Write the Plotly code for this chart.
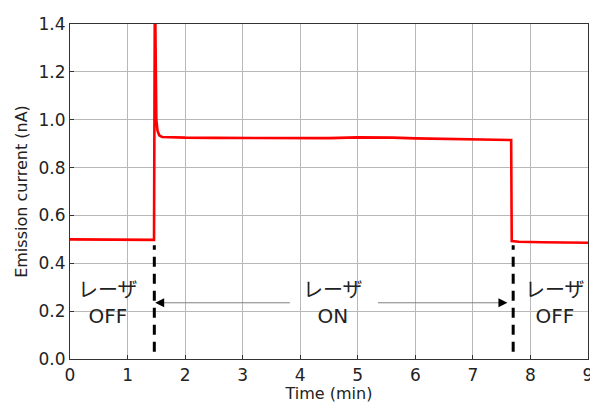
import plotly.graph_objects as go

# Emission current trace (time in min, current in nA)
time_min = [0.0, 0.3, 0.6, 0.9, 1.2, 1.46, 1.475, 1.485, 1.50, 1.52, 1.55, 1.60, 1.8, 2.0,
            2.5, 3.0, 3.5, 4.0, 4.5, 5.0, 5.3, 5.6, 6.0, 6.5, 7.0, 7.3, 7.6, 7.665,
            7.675, 7.8, 8.2, 8.6, 9.0]
current_nA = [0.500, 0.499, 0.500, 0.499, 0.498, 0.498, 1.60, 1.20, 1.00, 0.955, 0.935, 0.928, 0.926, 0.925,
              0.924, 0.923, 0.922, 0.922, 0.923, 0.926, 0.927, 0.925, 0.922, 0.920, 0.918, 0.917, 0.916, 0.915,
              0.493, 0.490, 0.488, 0.487, 0.486]

x_ticks = [0, 1, 2, 3, 4, 5, 6, 7, 8, 9]
y_ticks = [0.0, 0.2, 0.4, 0.6, 0.8, 1.0, 1.2, 1.4]
laser_switch_times = [1.465, 7.70]
label_off = "レーザ<br>OFF"
label_on = "レーザ<br>ON"

fig = go.Figure()
fig.add_trace(go.Scatter(x=time_min, y=current_nA, mode="lines",
                         line=dict(color="#ff0000", width=2.6), showlegend=False))

# dashed switch markers
for t in laser_switch_times:
    fig.add_shape(type="line", x0=t, x1=t, y0=0.03, y1=0.475, xref="x", yref="y",
                  line=dict(color="black", width=3, dash="10px,7px"))

# arrow shafts (gray)
fig.add_shape(type="line", x0=1.55, x1=3.82, y0=0.235, y1=0.235, line=dict(color="#808080", width=1))
fig.add_shape(type="line", x0=5.35, x1=7.50, y0=0.235, y1=0.235, line=dict(color="#808080", width=1))
# arrow heads (black)
fig.add_annotation(x=1.48, y=0.235, ax=1.62, ay=0.235, axref="x", ayref="y", xref="x", yref="y",
                   text="", showarrow=True, arrowhead=2, arrowsize=1.2, arrowwidth=1.5, arrowcolor="black")
fig.add_annotation(x=7.60, y=0.235, ax=7.46, ay=0.235, axref="x", ayref="y", xref="x", yref="y",
                   text="", showarrow=True, arrowhead=2, arrowsize=1.2, arrowwidth=1.5, arrowcolor="black")

txt_font = dict(family="DejaVu Sans, Noto Sans CJK JP", size=20, color="#222222")
for xpos, lbl in [(0.66, label_off), (4.57, label_on), (8.43, label_off)]:
    fig.add_annotation(x=xpos, y=0.235, text=lbl, showarrow=False, font=txt_font,
                       xref="x", yref="y", align="center", bgcolor="rgba(0,0,0,0)")

axis_common = dict(showgrid=True, gridcolor="#b8b8b8", gridwidth=1, showline=True,
                   linecolor="#333333", linewidth=1.2, mirror=True, ticks="inside",
                   ticklen=4, tickcolor="#333333", zeroline=False, automargin=False,
                   ticklabeloverflow="allow",
                   tickfont=dict(family="DejaVu Sans", size=17, color="#222222"))

fig.update_xaxes(range=[0, 9], tickvals=x_ticks, ticktext=[str(v) for v in x_ticks],
                 title=dict(text="Time (min)", font=dict(family="DejaVu Sans", size=16, color="#222222"), standoff=4),
                 **axis_common)
fig.update_yaxes(range=[0, 1.4], tickvals=y_ticks, ticktext=[f"{v:.1f}" for v in y_ticks],
                 title=dict(text="Emission current (nA)", font=dict(family="DejaVu Sans", size=16, color="#222222"), standoff=6),
                 **axis_common)

fig.update_layout(width=590, height=406, margin=dict(l=70, r=2, t=24, b=47),
                  plot_bgcolor="white", paper_bgcolor="white")

fig.write_html("out.html", config={"displayModeBar": False},
               post_script="document.body.style.margin='0';document.body.style.overflow='hidden';")
